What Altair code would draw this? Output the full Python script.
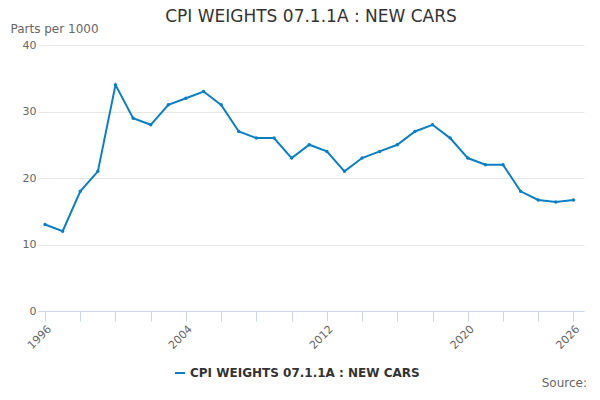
import pandas as pd
import altair as alt

years = list(range(1996, 2027))
weights = [13, 12, 18, 21, 34, 29, 28, 31, 32, 33, 31, 27, 26, 26, 23, 25, 24, 21,
           23, 24, 25, 27, 28, 26, 23, 22, 22, 18, 16.7, 16.4, 16.7]
series = "CPI WEIGHTS 07.1.1A : NEW CARS"

dat = pd.DataFrame({"year": years, "value": weights, "series": series})

line = (alt.Chart(dat)
    .mark_line(point=alt.OverlayMarkDef(size=12, filled=True), strokeWidth=2)
    .encode(
        x=alt.X("year:Q", scale=alt.Scale(domain=[1995.6, 2026.6], nice=False),
                axis=alt.Axis(values=list(range(1996, 2027, 2)) + [2026], title=None,
                              grid=False, labelAngle=-45, labelColor="#666",
                              labelExpr="indexof([1996,2004,2012,2020,2026], datum.value) >= 0 ? datum.value : ''",
                              tickColor="#ccd6eb", domainColor="#ccd6eb", tickSize=10,
                              labelFontSize=11)),
        y=alt.Y("value:Q", scale=alt.Scale(domain=[0, 40]),
                axis=alt.Axis(values=[0, 10, 20, 30, 40], title="Parts per 1000",
                              titleAngle=0, titleX=-28, titleY=-10, titleAlign="left",
                              titleFontWeight="normal", titleColor="#666", titleFontSize=12,
                              labelColor="#666", labelFontSize=11, domain=False, ticks=False,
                              gridColor="#e6e6e6")),
        color=alt.Color("series:N", scale=alt.Scale(range=["#0a7fc4"]),
                        legend=alt.Legend(title=None, orient="none", legendX=136, legendY=322,
                                          labelFontWeight="bold", labelFontSize=12,
                                          labelColor="#333", symbolType="stroke",
                                          symbolStrokeWidth=2, labelLimit=400))))

source = (alt.Chart(pd.DataFrame({"t": ["Source:"]}))
    .mark_text(align="right", fontSize=12, color="#666")
    .encode(text="t:N", x=alt.value(549), y=alt.value(338)))

chart = (alt.layer(line, source)
    .properties(width=546, height=266,
                title=alt.Title("CPI WEIGHTS 07.1.1A : NEW CARS", fontSize=17,
                                fontWeight="normal", color="#333", offset=-4),
                autosize=alt.AutoSizeParams(type="none"),
                padding={"left": 30, "top": 37, "right": 8, "bottom": 81})
    .configure(font="DejaVu Sans")
    .configure_view(stroke=None))

chart.save("out.html", embed_options={"renderer": "svg", "actions": False})
